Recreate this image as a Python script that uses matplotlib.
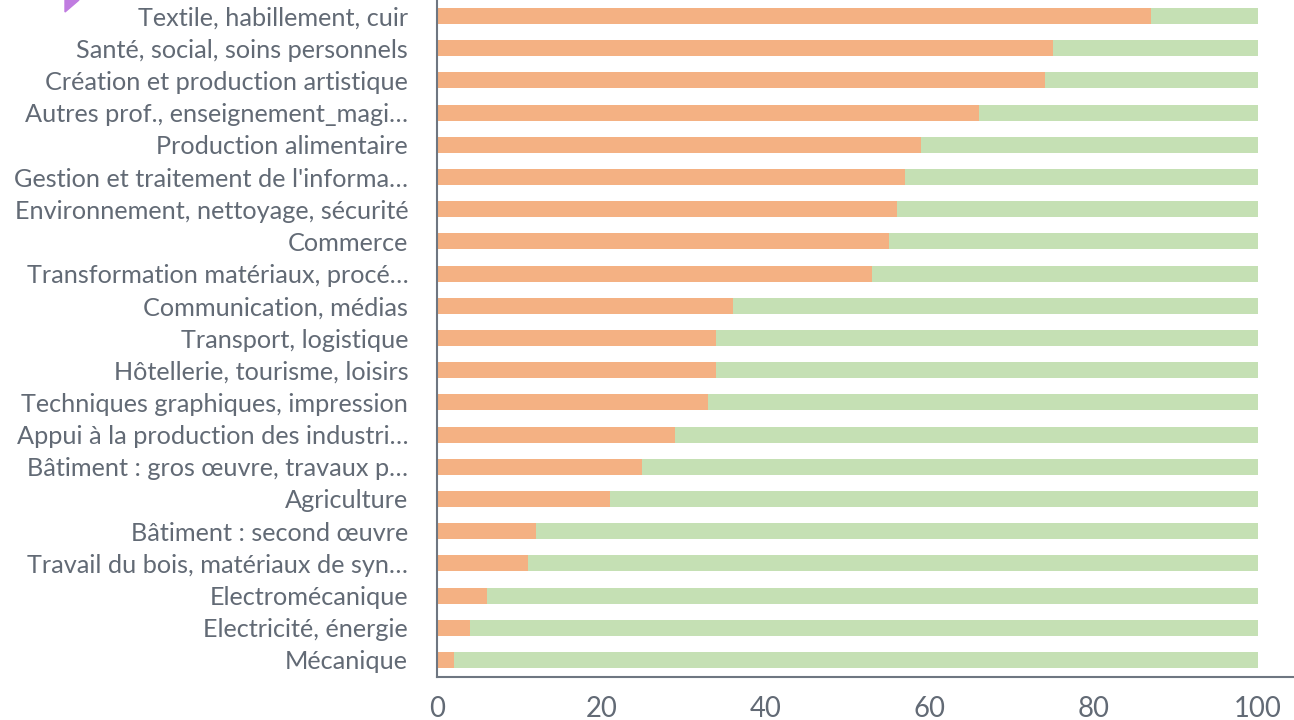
import matplotlib.pyplot as plt
from matplotlib.patches import Polygon

categories = [
    "Textile, habillement, cuir",
    "Santé, social, soins personnels",
    "Création et production artistique",
    "Autres prof., enseignement_magi…",
    "Production alimentaire",
    "Gestion et traitement de l'informa…",
    "Environnement, nettoyage, sécurité",
    "Commerce",
    "Transformation matériaux, procé…",
    "Communication, médias",
    "Transport, logistique",
    "Hôtellerie, tourisme, loisirs",
    "Techniques graphiques, impression",
    "Appui à la production des industri…",
    "Bâtiment : gros œuvre, travaux p…",
    "Agriculture",
    "Bâtiment : second œuvre",
    "Travail du bois, matériaux de syn…",
    "Electromécanique",
    "Electricité, énergie",
    "Mécanique",
]
share_orange = [87, 75, 74, 66, 59, 57, 56, 55, 53, 36, 34, 34, 33, 29, 25, 21, 12, 11, 6, 4, 2]
share_green = [100 - v for v in share_orange]
x_ticks = [0, 20, 40, 60, 80, 100]

ORANGE = "#f4b183"
GREEN = "#c5e0b4"
AXIS = "#6e7681"
TEXT = "#626a75"

plt.rcParams["font.family"] = ["Lato", "DejaVu Sans"]

fig = plt.figure(figsize=(12.94, 7.2), dpi=100)
ax = fig.add_axes([437.3 / 1294, 1 - 677 / 720, 1 - 437.3 / 1294, 677 / 720])

n = len(categories)
ypos = [n - 1 - i for i in range(n)]
ax.barh(ypos, share_orange, height=0.5, color=ORANGE)
ax.barh(ypos, share_green, left=share_orange, height=0.5, color=GREEN)

ax.set_xlim(0, 104.4)
ax.set_ylim(-0.528, n - 1 + 0.497)
ax.set_yticks(ypos)
ax.set_yticklabels(categories)
ax.set_xticks(x_ticks)

for side in ["top", "right"]:
    ax.spines[side].set_visible(False)
for side in ["left", "bottom"]:
    ax.spines[side].set_color(AXIS)
    ax.spines[side].set_linewidth(1.5)

ax.tick_params(axis="y", length=0, pad=21, labelsize=18.2, labelcolor=TEXT)
ax.tick_params(axis="x", length=0, pad=14, labelsize=19.8, labelcolor=TEXT)

# little purple corner at top-left
tri = Polygon([(65 / 1294, 1.0), (79 / 1294, 1.0), (65 / 1294, 1 - 12 / 720)],
              closed=True, transform=fig.transFigure, color="#c07ce0", clip_on=False)
fig.patches.append(tri)

fig.savefig("out.png", dpi=100)
